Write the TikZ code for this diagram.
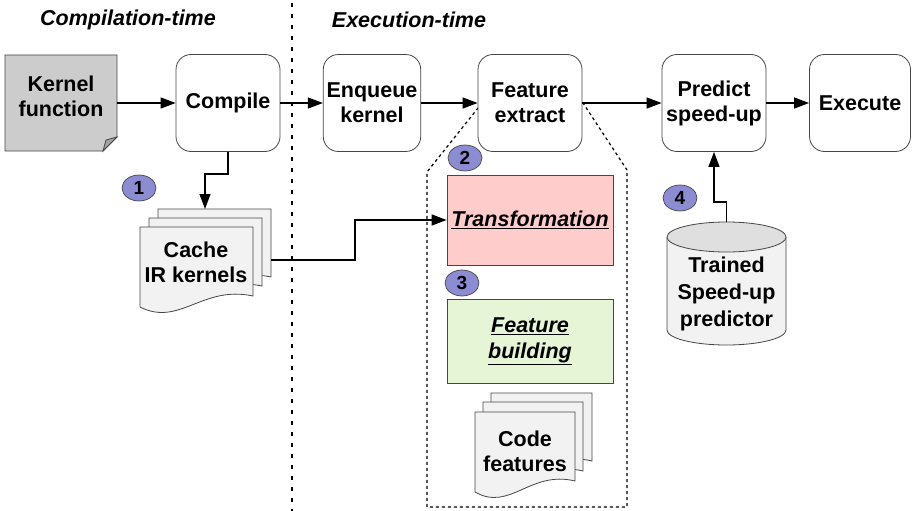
\documentclass[tikz,border=0pt]{standalone}
\usepackage{fontspec}
\setmainfont{Liberation Sans}
\usetikzlibrary{arrows.meta,calc,shapes.geometric}

\definecolor{kernelgray}{RGB}{204,204,204}
\definecolor{docgray}{RGB}{242,242,242}
\definecolor{transpink}{RGB}{255,204,204}
\definecolor{buildgreen}{RGB}{230,245,214}
\definecolor{badgeblue}{RGB}{140,140,210}
\definecolor{edgegray}{RGB}{70,70,70}

% document sheet with a wavy lower edge; #1,#2 top-left corner, #3 width, #4 height at left
\newcommand\wavysheet[4]{%
  \begin{scope}[shift={(#1,#2)}]
    \draw[sheet] (0,0) -- (#3,0) -- (#3,#4-11)
      .. controls (0.55*#3,#4-22) and (0.35*#3,#4+20) .. (0,#4) -- cycle;
  \end{scope}}

\begin{document}
\begin{tikzpicture}[x=1pt,y=-1pt,
  stepbox/.style={draw=edgegray, line width=0.8pt, rounded corners=15pt, fill=white,
    minimum height=97pt, align=center, font=\bfseries\fontsize{21.5}{25}\selectfont},
  plainbox/.style={draw=edgegray, line width=0.8pt, align=center,
    font=\bfseries\itshape\fontsize{21.5}{26}\selectfont},
  label/.style={align=center, font=\bfseries\fontsize{21.5}{25}\selectfont},
  header/.style={font=\bfseries\itshape\fontsize{21.5}{24}\selectfont},
  sheet/.style={draw=edgegray, line width=0.8pt, fill=docgray},
  badge/.style={draw=edgegray, line width=0.7pt, fill=badgeblue, ellipse,
    minimum width=34pt, minimum height=26pt, inner sep=0pt,
    font=\bfseries\fontsize{19}{19}\selectfont},
  arr/.style={draw=black, line width=1.2pt, -{Triangle[length=15pt,width=11pt]}}]

\useasboundingbox (0,0) rectangle (913,511);

% phase separator and headings
\draw[line width=2.6pt, dash pattern=on 4pt off 7pt] (292,3) -- (292,511);
\node[header] (hcomp) at (128,20) {Compilation-time};
\node[header] (hexec) at (409,20) {Execution-time};

% callout frame of the feature extraction step
\draw[line width=1.2pt, dash pattern=on 3pt off 3pt]
  (482,103) -- (427,172) -- (427,507) -- (627,507) -- (627,170) -- (583,103);

% kernel function sheet with folded corner
\draw[draw=edgegray, line width=0.8pt, fill=kernelgray]
  (5,55) -- (117,55) -- (117,137) -- (103,151) -- (5,151) -- cycle;
\draw[draw=edgegray, line width=0.8pt, fill=kernelgray!80!black]
  (117,137) -- (106,140) -- (103,151) -- cycle;
\node[label] (kernel) at (61,96) {Kernel\\function};
\coordinate (kernelR) at (117,103);

% pipeline steps
\node[stepbox, minimum width=104pt] (compile) at (228,103) {Compile};
\node[stepbox, minimum width=97pt]  (enqueue) at (372,103) {Enqueue\\kernel};
\node[stepbox, minimum width=104pt] (extract) at (530,103) {Feature\\extract};
\node[stepbox, minimum width=104pt] (predict) at (714,103) {Predict\\speed-up};
\node[stepbox, minimum width=101pt] (execute) at (860,103) {Execute};

% cached IR kernels
\wavysheet{158}{209}{113}{79}
\wavysheet{149}{218}{113}{79}
\wavysheet{140}{227}{113}{80}
\node[label] (cache) at (196,262) {Cache\\IR kernels};
\coordinate (cacheTop) at (205,209);
\coordinate (cacheR) at (271,260);
\coordinate (cacheBend) at (355,260);

% feature extraction sub-steps
\node[plainbox, fill=transpink, minimum width=166pt, minimum height=90pt]
  (trans) at (530,220) {\underline{Transformation}};
\node[plainbox, fill=buildgreen, minimum width=166pt, minimum height=84pt]
  (build) at (530,341) {\underline{Feature}\\\underline{building}};

% code features
\wavysheet{491}{393}{101}{79}
\wavysheet{483}{402}{100}{80}
\wavysheet{475}{412}{100}{80}
\node[label] (codef) at (525,451) {Code\\features};

% trained predictor store
\fill[docgray] (667,237) -- (667,330) arc[start angle=180, end angle=0, x radius=59.5, y radius=15]
  -- (786,237) -- cycle;
\draw[draw=edgegray, line width=0.8pt] (667,237) -- (667,330)
  arc[start angle=180, end angle=0, x radius=59.5, y radius=15] -- (786,237);
\draw[draw=edgegray, line width=0.8pt, fill=docgray!92!black] (726.5,237) ellipse [x radius=59.5, y radius=15];
\node[label, font=\bfseries\fontsize{21.5}{27}\selectfont] (model) at (726.5,294) {Trained\\Speed-up\\predictor};
\coordinate (modelTop) at (726.5,222);
\coordinate (modelBend) at (726.5,202);

% numbered badges
\node[badge] (b1) at (139,188) {1};
\node[badge] (b2) at (465,158) {2};
\node[badge] (b3) at (462,283) {3};
\node[badge] (b4) at (680,198) {4};

% connectors
\draw[arr] (kernelR) -- (compile.west);
\draw[arr] (compile.east) -- (enqueue.west);
\draw[arr] (enqueue.east) -- (extract.west);
\draw[arr] (extract.east) -- (predict.west);
\draw[arr] (predict.east) -- (execute.west);
\draw[arr] (compile.south) -- ++(0,22) -| (cacheTop);
\draw[arr] (cacheR) -- (cacheBend) |- (trans.west);
\draw[arr] (modelTop) -- (modelBend) -| (predict.south);
\end{tikzpicture}
\end{document}
